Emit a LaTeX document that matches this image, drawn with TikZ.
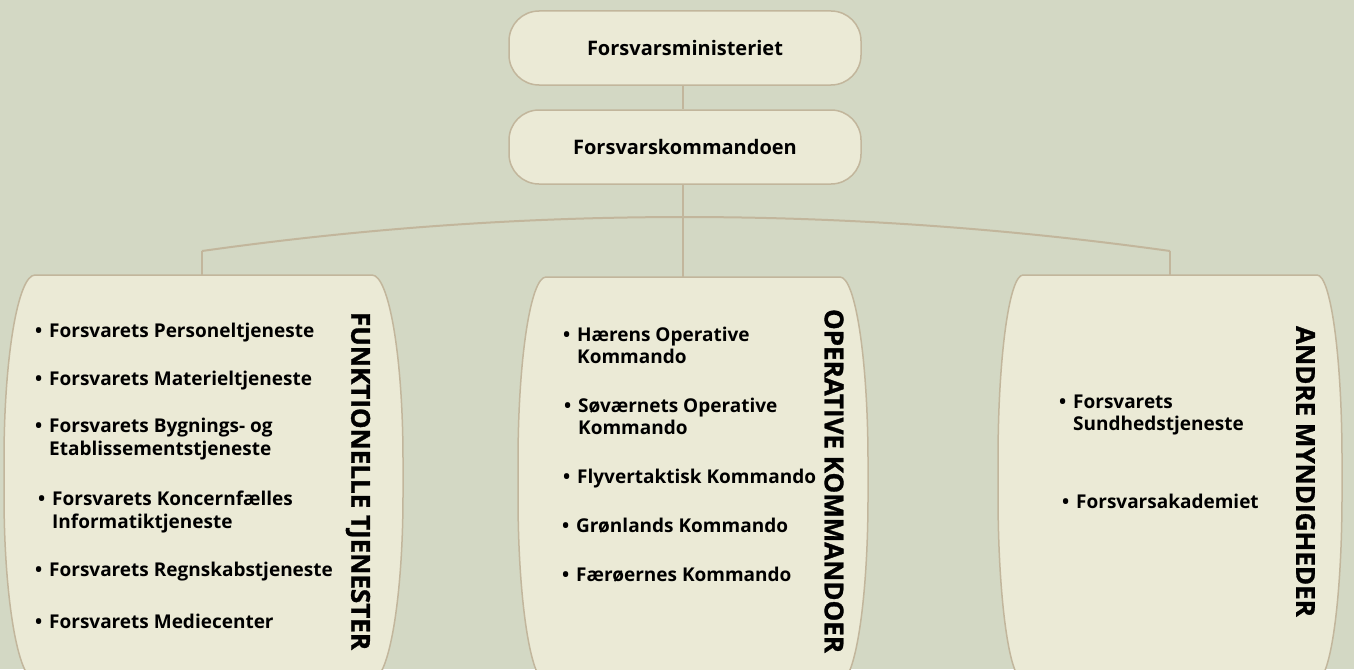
\documentclass[tikz,border=0pt]{standalone}
\usepackage{fontspec}
\setmainfont{Open Sans}
\newfontfamily\heavyfont{Open Sans}[BoldFeatures={FakeBold=1.2}]
\definecolor{bgc}{HTML}{D3D8C4}
\definecolor{boxfill}{HTML}{EBEAD6}
\definecolor{edgec}{HTML}{C2B69C}
\newcommand\bul{\makebox[14pt][l]{•}}
\newcommand\ind{\hspace*{14pt}}
\newcommand\barrelbox[6]{%
  \pgfmathsetmacro\bbXa{#1+#5}\pgfmathsetmacro\bbXb{#2-#5}%
  \pgfmathsetmacro\bbYa{#3+#6}\pgfmathsetmacro\bbYb{#4-#6}%
  \pgfmathsetmacro\bbKx{0.5523*#5}\pgfmathsetmacro\bbKy{0.5523*#6}%
  \path[bigbox] (\bbXa,#3) -- (\bbXb,#3)
    .. controls (\bbXb+\bbKx,#3) and (#2,\bbYa-\bbKy) .. (#2,\bbYa)
    -- (#2,\bbYb)
    .. controls (#2,\bbYb+\bbKy) and (\bbXb+\bbKx,#4) .. (\bbXb,#4)
    -- (\bbXa,#4)
    .. controls (\bbXa-\bbKx,#4) and (#1,\bbYb+\bbKy) .. (#1,\bbYb)
    -- (#1,\bbYa)
    .. controls (#1,\bbYa-\bbKy) and (\bbXa-\bbKx,#3) .. (\bbXa,#3) -- cycle;}
\begin{document}
\begin{tikzpicture}[x=1pt,y=-1pt,
  topbox/.style={draw=edgec, fill=boxfill, line width=1.5pt, rounded corners=30pt,
    minimum width=352pt, minimum height=74pt, inner sep=0pt,
    font=\bfseries\fontsize{20}{24}\selectfont},
  bigbox/.style={draw=edgec, fill=boxfill, line width=1.5pt},
  conn/.style={draw=edgec, line width=2pt},
  item/.style={anchor=west, align=left, inner sep=0pt,
    font=\bfseries\fontsize{19}{22.5}\selectfont},
  grouptitle/.style={rotate=-90, inner sep=0pt,
    font=\heavyfont\bfseries\fontsize{26}{30}\selectfont}]
\fill[bgc] (0,0) rectangle (1354,669);
\useasboundingbox (0,0) rectangle (1354,669);

% connectors
\coordinate (arcL) at (202,251);
\coordinate (arcR) at (1170,251);
\coordinate (ltop) at (202,276);
\coordinate (mtop) at (683,278);
\coordinate (rtop) at (1170,276);
\draw[conn] (arcL) .. controls (522.7,205.7) and (845.3,205.7) .. (arcR);
\draw[conn] (arcL) -- (ltop);
\draw[conn] (arcR) -- (rtop);

% top boxes
\node[topbox] (min) at (685,48) {Forsvarsministeriet};
\node[topbox] (fk) at (685,147) {Forsvarskommandoen};
\draw[conn] (min.south -| 683,0) -- (fk.north -| 683,0);
\draw[conn] (fk.south -| 683,0) -- (mtop);

% big boxes
\barrelbox{4}{403}{275}{680}{31}{185}
\barrelbox{518}{868}{277}{682}{28}{185}
\barrelbox{998}{1342}{275}{680}{25}{185}

% group titles
\node[grouptitle] (t1) at (358,481) {FUNKTIONELLE TJENESTER};
\node[grouptitle] (t2) at (834,481) {OPERATIVE KOMMANDOER};
\node[grouptitle] (t3) at (1305.5,471.5) {ANDRE MYNDIGHEDER};

% left items
\node[item] (f1) at (35,333) {\bul Forsvarets Personeltjeneste};
\node[item] (f2) at (35,381) {\bul Forsvarets Materieltjeneste};
\node[item] (f3) at (35,439) {\bul Forsvarets Bygnings- og\\\ind Etablissementstjeneste};
\node[item] (f4) at (38,512) {\bul Forsvarets Koncernfælles\\\ind Informatiktjeneste};
\node[item] (f5) at (35,572) {\bul Forsvarets Regnskabstjeneste};
\node[item] (f6) at (35,621) {\bul Forsvarets Mediecenter};

% middle items
\node[item] (o1) at (563,345.5) {\bul Hærens Operative\\\ind Kommando};
\node[item] (o2) at (564,416.5) {\bul Søværnets Operative\\\ind Kommando};
\node[item] (o3) at (563,479) {\bul Flyvertaktisk Kommando};
\node[item] (o4) at (562,526) {\bul Grønlands Kommando};
\node[item] (o5) at (562,575) {\bul Færøernes Kommando};

% right items
\node[item] (a1) at (1059,415) {\bul Forsvarets\\\ind Sundhedstjeneste};
\node[item] (a2) at (1062,501) {\bul Forsvarsakademiet};
\end{tikzpicture}
\end{document}
